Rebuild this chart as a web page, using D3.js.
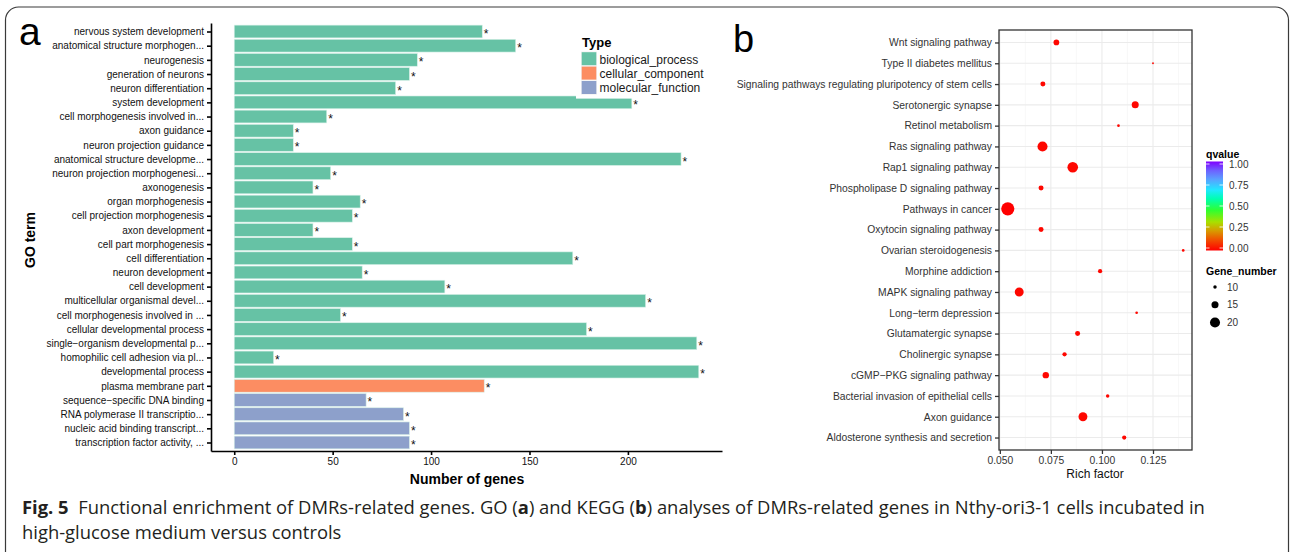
<!DOCTYPE html>
<html>
<head>
<meta charset="utf-8">
<script src="https://cdn.jsdelivr.net/npm/d3@7"></script>
<style>
  html, body { margin: 0; padding: 0; background: #fff; }
  svg { display: block; }
  text { font-family: "Liberation Sans", Arial, Helvetica, sans-serif; }
</style>
</head>
<body>
<svg id="chart" width="1290" height="552"></svg>
<script>
// ---------------- DATA ----------------
const goTerms = [
  "nervous system development",
  "anatomical structure morphogen...",
  "neurogenesis",
  "generation of neurons",
  "neuron differentiation",
  "system development",
  "cell morphogenesis involved in...",
  "axon guidance",
  "neuron projection guidance",
  "anatomical structure developme...",
  "neuron projection morphogenesi...",
  "axonogenesis",
  "organ morphogenesis",
  "cell projection morphogenesis",
  "axon development",
  "cell part morphogenesis",
  "cell differentiation",
  "neuron development",
  "cell development",
  "multicellular organismal devel...",
  "cell morphogenesis involved in ...",
  "cellular developmental process",
  "single\u2212organism developmental p...",
  "homophilic cell adhesion via pl...",
  "developmental process",
  "plasma membrane part",
  "sequence\u2212specific DNA binding",
  "RNA polymerase II transcriptio...",
  "nucleic acid binding transcript...",
  "transcription factor activity, ..."
];
const goCounts = [126, 143, 93, 89, 82, 202, 47, 30, 30, 227, 49, 40, 64, 60, 40,
                  60, 172, 65, 107, 209, 54, 179, 235, 20, 236, 127, 67, 86, 89, 89];
const goTypes = ["biological_process","biological_process","biological_process","biological_process",
  "biological_process","biological_process","biological_process","biological_process","biological_process",
  "biological_process","biological_process","biological_process","biological_process","biological_process",
  "biological_process","biological_process","biological_process","biological_process","biological_process",
  "biological_process","biological_process","biological_process","biological_process","biological_process",
  "biological_process","cellular_component","molecular_function","molecular_function","molecular_function",
  "molecular_function"];
const typeNames = ["biological_process", "cellular_component", "molecular_function"];
const typeColors = ["#66C2A5", "#FC8D62", "#8DA0CB"];
const goTicks = [0, 50, 100, 150, 200];

const keggTerms = [
  "Wnt signaling pathway",
  "Type II diabetes mellitus",
  "Signaling pathways regulating pluripotency of stem cells",
  "Serotonergic synapse",
  "Retinol metabolism",
  "Ras signaling pathway",
  "Rap1 signaling pathway",
  "Phospholipase D signaling pathway",
  "Pathways in cancer",
  "Oxytocin signaling pathway",
  "Ovarian steroidogenesis",
  "Morphine addiction",
  "MAPK signaling pathway",
  "Long\u2212term depression",
  "Glutamatergic synapse",
  "Cholinergic synapse",
  "cGMP\u2212PKG signaling pathway",
  "Bacterial invasion of epithelial cells",
  "Axon guidance",
  "Aldosterone synthesis and secretion"
];
const keggRich = [0.0777, 0.1250, 0.0711, 0.1163, 0.1081, 0.0709, 0.0857, 0.0702, 0.0539, 0.0702,
                  0.1398, 0.0991, 0.0595, 0.1170, 0.0881, 0.0817, 0.0725, 0.1028, 0.0907, 0.1109];
const keggGenes = [13, 8, 12, 15, 9, 20, 21, 12, 26, 12, 9, 11, 18, 9, 12, 11, 14, 10, 18, 11];
const keggQ = [0.01, 0.01, 0.01, 0.01, 0.01, 0.01, 0.01, 0.01, 0.00, 0.01,
               0.01, 0.01, 0.01, 0.01, 0.01, 0.01, 0.01, 0.01, 0.01, 0.01];
const richTicks = [0.050, 0.075, 0.100, 0.125];
const richMinor = [0.0625, 0.0875, 0.1125, 0.1375];
const qTicks = [0, 0.25, 0.5, 0.75, 1];
const sizeLegend = [10, 15, 20];
const qStops = [[0, "#FF0000"], [0.12, "#F05000"], [0.22, "#D89A00"], [0.32, "#A8E000"],
                [0.45, "#30FF30"], [0.58, "#00FFB0"], [0.68, "#20E8FF"], [0.8, "#5AA0FF"],
                [0.9, "#6E60FF"], [1, "#8000FF"]];

const caption1Bold = "Fig. 5";
const caption1 = ["  Functional enrichment of DMRs-related genes. GO (", "a", ") and KEGG (", "b",
                  ") analyses of DMRs-related genes in Nthy-ori3-1 cells incubated in"];
const caption2 = "high-glucose medium versus controls";

// ---------------- DRAW ----------------
const svg = d3.select("#chart");

// figure frame
svg.append("rect").attr("x", 5.5).attr("y", 7).attr("width", 1283).attr("height", 620)
  .attr("rx", 13).attr("fill", "none").attr("stroke", "#3a3a3a").attr("stroke-width", 1.2);

// ===== Panel a =====
const gA = svg.append("g");
const xA = d3.scaleLinear().domain([-11.8, 247.8]).range([211, 722]);
const yA = d3.scalePoint().domain(goTerms).range([23, 451]).padding(0.6);
const barH = yA.step() * 0.9;
const colorType = d3.scaleOrdinal().domain(typeNames).range(typeColors);

gA.selectAll("rect.bar").data(goTerms).join("rect").attr("class", "bar")
  .attr("x", xA(0))
  .attr("y", d => yA(d) - barH / 2)
  .attr("width", (d, i) => xA(goCounts[i]) - xA(0))
  .attr("height", barH)
  .attr("fill", (d, i) => colorType(goTypes[i]))
  .attr("stroke", "#d8f0e8").attr("stroke-width", 0.6);

// legend background (drawn over bars like ggplot)
const lg = gA.append("g");
lg.append("rect").attr("x", 576).attr("y", 30).attr("width", 138).attr("height", 68.6).attr("fill", "#fff");

gA.selectAll("text.star").data(goTerms).join("text").attr("class", "star")
  .attr("x", (d, i) => xA(goCounts[i]) + 1.5)
  .attr("y", d => yA(d) + 6.5)
  .attr("font-size", 12).attr("fill", "#111")
  .text("*");

lg.append("text").attr("x", 582).attr("y", 47).attr("font-size", 13).attr("font-weight", "bold").text("Type");
typeNames.forEach((t, i) => {
  lg.append("rect").attr("x", 581).attr("y", 51.5 + i * 14.4).attr("width", 16).attr("height", 14.4)
    .attr("fill", "#f2f2f2");
  lg.append("rect").attr("x", 581.7).attr("y", 52.2 + i * 14.4).attr("width", 14.6).attr("height", 13)
    .attr("fill", colorType(t));
  lg.append("text").attr("x", 599.5).attr("y", 63.5 + i * 14.4).attr("font-size", 12).attr("fill", "#1a1a1a").text(t);
});

// axes
const axAy = gA.append("g").attr("transform", `translate(${xA.range()[0]},0)`)
  .call(d3.axisLeft(yA).tickSize(4).tickSizeOuter(0).tickPadding(3));
const axAx = gA.append("g").attr("transform", `translate(0,${yA.range()[1]})`)
  .call(d3.axisBottom(xA).tickValues(goTicks).tickSize(4).tickSizeOuter(0).tickPadding(3));
[axAy, axAx].forEach(ax => {
  ax.select(".domain").attr("stroke", "#000").attr("stroke-width", 1.6);
  ax.selectAll(".tick line").attr("stroke", "#000").attr("stroke-width", 1.6);
  ax.selectAll(".tick text").attr("fill", "#111").attr("font-size", 10)
    .style("font-family", "'Liberation Sans', Arial, sans-serif");
});

gA.append("text").attr("x", 467).attr("y", 484).attr("text-anchor", "middle")
  .attr("font-size", 14).attr("font-weight", "bold").text("Number of genes");
gA.append("text").attr("transform", "translate(35,240) rotate(-90)").attr("text-anchor", "middle")
  .attr("font-size", 14).attr("font-weight", "bold").text("GO term");
gA.append("text").attr("x", 19).attr("y", 45).attr("font-size", 39).text("a");

// ===== Panel b =====
const gB = svg.append("g");
const xB = d3.scaleLinear().domain([0.0496, 0.1441]).range([999, 1192]);
const yB = d3.scalePoint().domain(keggTerms).range([30, 450]).padding(0.6);
const rB = d3.scaleSqrt().domain([8, 26]).range([0.9, 6.6]);
const qColor = d3.scaleLinear().domain(qStops.map(s => s[0])).range(qStops.map(s => s[1]));

const [px0, px1] = xB.range();
const [py0, py1] = yB.range();
gB.append("rect").attr("x", px0).attr("y", py0).attr("width", px1 - px0).attr("height", py1 - py0).attr("fill", "#fff");
gB.selectAll("line.minor").data(richMinor).join("line").attr("class", "minor")
  .attr("x1", d => xB(d)).attr("x2", d => xB(d)).attr("y1", py0).attr("y2", py1)
  .attr("stroke", "#f4f4f4").attr("stroke-width", 0.6);
gB.selectAll("line.vmajor").data(richTicks).join("line").attr("class", "vmajor")
  .attr("x1", d => xB(d)).attr("x2", d => xB(d)).attr("y1", py0).attr("y2", py1)
  .attr("stroke", "#ebebeb").attr("stroke-width", 1.1);
gB.selectAll("line.hmajor").data(keggTerms).join("line").attr("class", "hmajor")
  .attr("x1", px0).attr("x2", px1).attr("y1", d => yB(d)).attr("y2", d => yB(d))
  .attr("stroke", "#ebebeb").attr("stroke-width", 1.1);

gB.selectAll("circle.dot").data(keggTerms).join("circle").attr("class", "dot")
  .attr("cx", (d, i) => xB(keggRich[i]))
  .attr("cy", d => yB(d))
  .attr("r", (d, i) => rB(keggGenes[i]))
  .attr("fill", (d, i) => qColor(keggQ[i]));

gB.append("rect").attr("x", px0).attr("y", py0).attr("width", px1 - px0).attr("height", py1 - py0)
  .attr("fill", "none").attr("stroke", "#333").attr("stroke-width", 1.3);

const axBy = gB.append("g").attr("transform", `translate(${px0},0)`)
  .call(d3.axisLeft(yB).tickSize(4).tickSizeOuter(0).tickPadding(3));
const axBx = gB.append("g").attr("transform", `translate(0,${py1})`)
  .call(d3.axisBottom(xB).tickValues(richTicks).tickFormat(d3.format(".3f")).tickSize(4).tickSizeOuter(0).tickPadding(3));
[axBy, axBx].forEach(ax => {
  ax.select(".domain").remove();
  ax.selectAll(".tick line").attr("stroke", "#333").attr("stroke-width", 1.3);
  ax.selectAll(".tick text").attr("fill", "#333")
    .style("font-family", "'Liberation Sans', Arial, sans-serif");
});
axBy.selectAll(".tick text").attr("font-size", 10.3);
axBx.selectAll(".tick text").attr("font-size", 10.3);

gB.append("text").attr("x", 1095).attr("y", 478).attr("text-anchor", "middle")
  .attr("font-size", 12).attr("fill", "#111").text("Rich factor");
gB.append("text").attr("x", 733).attr("y", 52).attr("font-size", 38).text("b");

// colour bar legend
const defs = svg.append("defs");
const grad = defs.append("linearGradient").attr("id", "qgrad")
  .attr("x1", 0).attr("y1", 1).attr("x2", 0).attr("y2", 0);
qStops.forEach(s => grad.append("stop").attr("offset", s[0]).attr("stop-color", s[1]));
const qY = d3.scaleLinear().domain([0, 1]).range([248, 164]);
const cbX = 1206, cbW = 17;
gB.append("text").attr("x", 1206).attr("y", 158).attr("font-size", 10.5).attr("font-weight", "bold").text("qvalue");
gB.append("rect").attr("x", cbX).attr("y", qY(1) - 2.5).attr("width", cbW).attr("height", qY(0) - qY(1) + 5)
  .attr("fill", "url(#qgrad)");
gB.selectAll("line.cbl").data(qTicks).join("line").attr("class", "cbl")
  .attr("x1", cbX).attr("x2", cbX + 3.5).attr("y1", d => qY(d)).attr("y2", d => qY(d))
  .attr("stroke", "#fff").attr("stroke-width", 0.8);
gB.selectAll("line.cbr").data(qTicks).join("line").attr("class", "cbr")
  .attr("x1", cbX + cbW - 3.5).attr("x2", cbX + cbW).attr("y1", d => qY(d)).attr("y2", d => qY(d))
  .attr("stroke", "#fff").attr("stroke-width", 0.8);
gB.selectAll("text.cbt").data(qTicks).join("text").attr("class", "cbt")
  .attr("x", 1229).attr("y", d => qY(d) + 3.5).attr("font-size", 10).attr("fill", "#333")
  .text(d => d3.format(".2f")(d));

// size legend
gB.append("text").attr("x", 1206).attr("y", 275).attr("font-size", 10.5).attr("font-weight", "bold").text("Gene_number");
const sY = d3.scalePoint().domain(sizeLegend).range([287, 322.5]);
gB.selectAll("circle.sz").data(sizeLegend).join("circle").attr("class", "sz")
  .attr("cx", 1215).attr("cy", d => sY(d)).attr("r", d => rB(d)).attr("fill", "#000");
gB.selectAll("text.szt").data(sizeLegend).join("text").attr("class", "szt")
  .attr("x", 1227).attr("y", d => sY(d) + 3.5).attr("font-size", 10).attr("fill", "#333").text(d => d);

// ===== Caption =====
const capFont = "'Open Sans', 'Noto Sans', sans-serif";
const c1 = svg.append("text").attr("x", 22).attr("y", 514).attr("font-size", 18.4)
  .attr("fill", "#231f20").style("font-family", capFont).attr("xml:space", "preserve");
c1.append("tspan").attr("font-weight", "bold").text(caption1Bold);
caption1.forEach((s, i) => {
  c1.append("tspan").attr("font-weight", i % 2 === 1 ? "bold" : "normal").text(s);
});
svg.append("text").attr("x", 22).attr("y", 539).attr("font-size", 18.4)
  .attr("fill", "#231f20").style("font-family", capFont).text(caption2);
</script>
</body>
</html>
